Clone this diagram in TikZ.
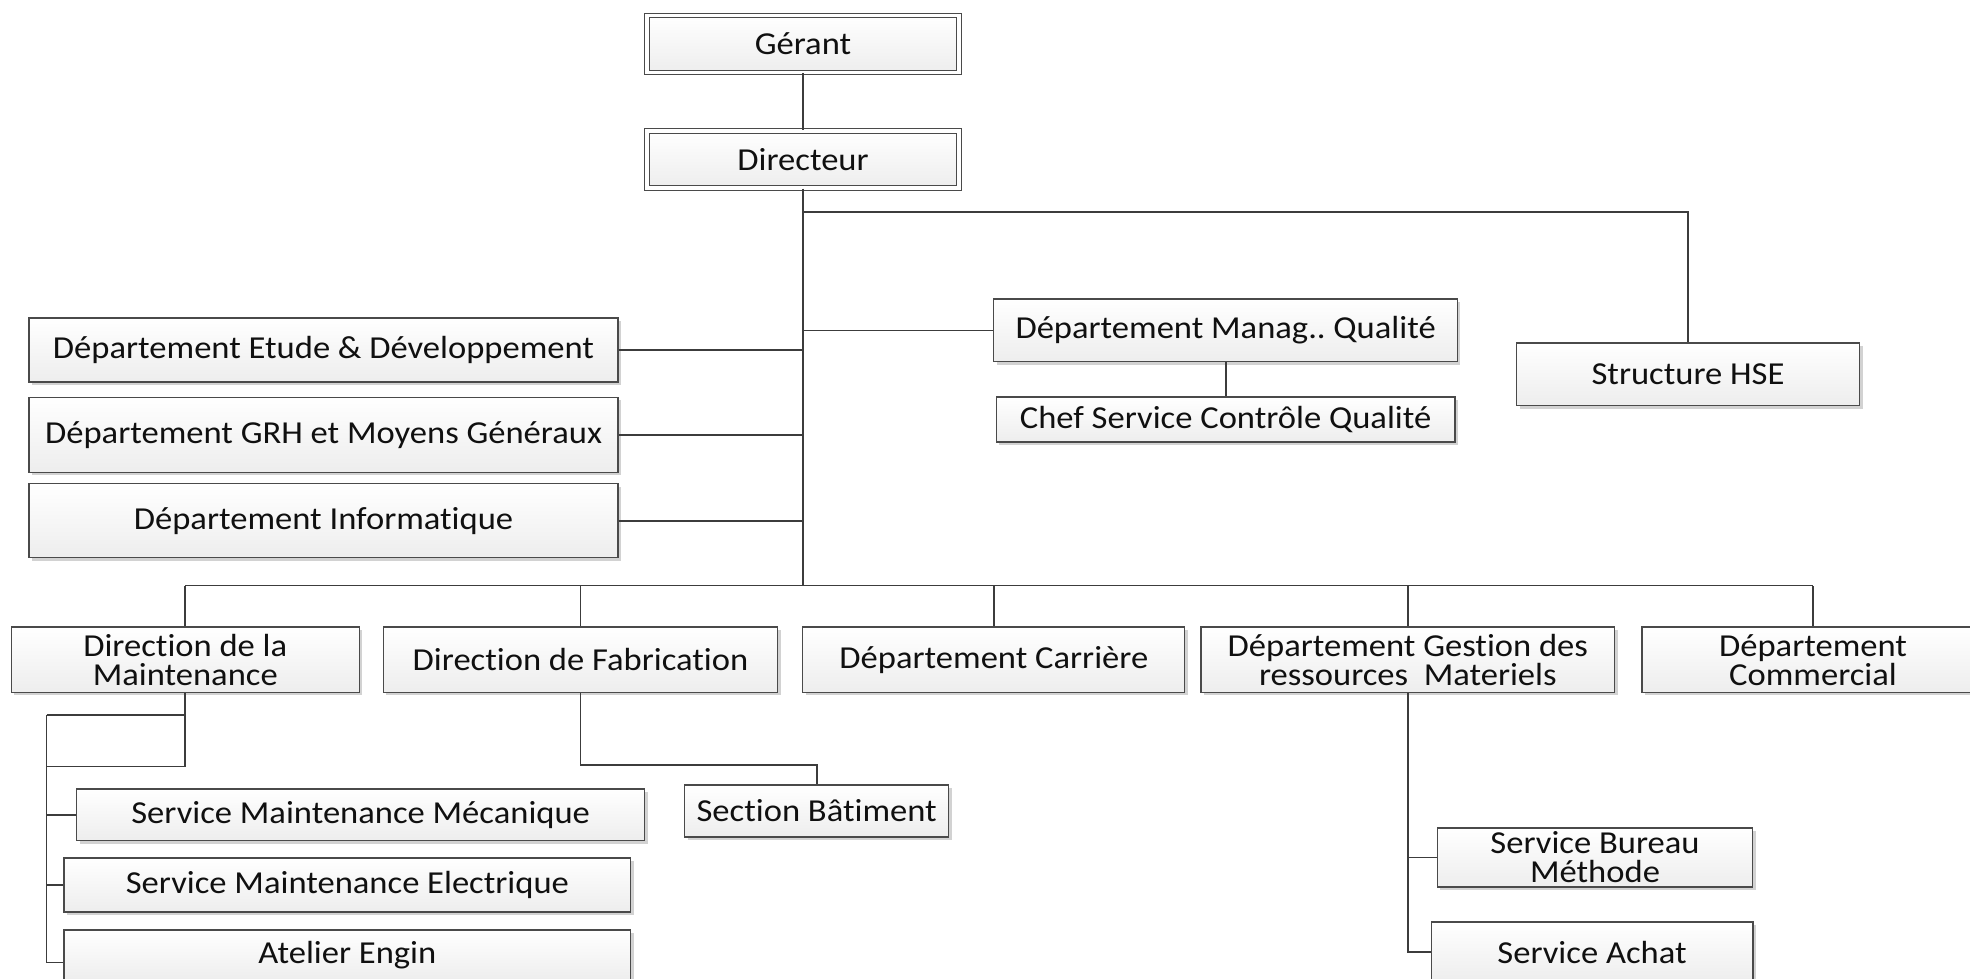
\documentclass[tikz,border=0pt]{standalone}
\usepackage{fontspec}
\setmainfont{Carlito}[FakeStretch=1.08, Ligatures=NoCommon]
\usetikzlibrary{shadows}
\definecolor{edge}{HTML}{4A4A4A}
\definecolor{wire}{HTML}{3C3C3C}
\definecolor{txt}{HTML}{101010}
\frenchspacing
\tikzset{
  orgbox/.style={draw=edge, line width=1.3pt, top color=white, bottom color=gray!14,
    text=txt, align=center, inner sep=0pt,
    general shadow={fill=gray!35, shadow xshift=3pt, shadow yshift=-3pt},
    font=\fontsize{32}{29}\selectfont},
  headbox/.style={orgbox, double=white, double distance=3.5pt, line width=1.1pt},
  wirestyle/.style={draw=wire, line width=1.8pt}
}
\begin{document}
\begin{tikzpicture}[x=1pt, y=-1pt]
\useasboundingbox (0,0) rectangle (1970,979);
\clip (0,0) rectangle (1970,979);
\fill[white] (0,0) rectangle (1970,979);

% top of the hierarchy
\node[headbox, minimum width=312pt, minimum height=57pt] (ger) at (803,43.9) {Gérant};
\node[headbox, minimum width=312pt, minimum height=57pt] (dir) at (803,159.5) {Directeur};

% staff departments on the left
\node[orgbox, minimum width=589pt, minimum height=64pt] (etu) at (323.5,350) {Département Etude \& Développement};
\node[orgbox, minimum width=589pt, minimum height=75pt] (grh) at (323.5,434.7) {Département GRH et Moyens Généraux};
\node[orgbox, minimum width=589pt, minimum height=74pt] (inf) at (323.5,520.7) {Département Informatique};

% quality and HSE
\node[orgbox, minimum width=463.6pt, minimum height=62.8pt] (man) at (1225.6,330.4) {Département Manag.. Qualité};
\node[orgbox, minimum width=458.7pt, minimum height=45pt] (chf) at (1225.6,419.5) {Chef Service Contrôle Qualité};
\node[orgbox, minimum width=343pt, minimum height=62.8pt] (hse) at (1688,374.4) {Structure HSE};

% operational directions
\node[orgbox, minimum width=348pt, minimum height=65.3pt] (mnt) at (185.3,659.7) {Direction de la\\Maintenance};
\node[orgbox, minimum width=394.5pt, minimum height=65.3pt] (fab) at (580.5,659.7) {Direction de Fabrication};
\node[orgbox, minimum width=382pt, minimum height=65.3pt] (car) at (993.8,659.7) {Département Carrière};
\node[orgbox, minimum width=413.5pt, minimum height=65.3pt] (ges) at (1407.8,659.7) {Département Gestion des\\ressources\ \ Materiels};
\node[orgbox, minimum width=342pt, minimum height=65.3pt] (com) at (1813,659.7) {Département\\Commercial};

% services under maintenance
\node[orgbox, minimum width=568pt, minimum height=51.5pt] (mec) at (360.6,814.8) {Service Maintenance Mécanique};
\node[orgbox, minimum width=566.7pt, minimum height=54pt] (ele) at (347.4,885) {Service Maintenance Electrique};
\node[orgbox, minimum width=566.7pt, minimum height=51pt] (ate) at (347.4,955.4) {Atelier Engin};

% section under fabrication
\node[orgbox, minimum width=264pt, minimum height=52pt] (sec) at (816.7,811) {Section Bâtiment};

% services under resources management
\node[orgbox, minimum width=315.4pt, minimum height=59pt] (bur) at (1595,857.5) {Service Bureau\\Méthode};
\node[orgbox, minimum width=321.7pt, minimum height=60pt] (ach) at (1592,952) {Service Achat};

% junction points
\coordinate (bus) at (803,585.5);
\coordinate (hsej) at (803,212);
\coordinate (m1) at (46.5,715);
\coordinate (m2) at (46.5,766.4);

% connectors
\draw[wirestyle] (ger) -- (dir);
\draw[wirestyle] (dir.south) -- (bus);
\draw[wirestyle] (hsej) -| (hse.north);
\draw[wirestyle] (etu.east) -- (etu.east -| bus);
\draw[wirestyle] (grh.east) -- (grh.east -| bus);
\draw[wirestyle] (inf.east) -- (inf.east -| bus);
\draw[wirestyle] (man.west) -- (man.west -| bus);
\draw[wirestyle] (man.south) -- (chf.north);

\draw[wirestyle] (mnt.north |- bus) -- (com.north |- bus);
\foreach \n in {mnt,fab,car,ges,com}
  \draw[wirestyle] (\n.north) -- (\n.north |- bus);

\draw[wirestyle] (mnt.south) -- (mnt.south |- m2) -- (m2);
\draw[wirestyle] (m1) -- (m1 -| mnt.south);
\draw[wirestyle] (m1) |- ([yshift=-7pt]ate.west);
\draw[wirestyle] (mec.west) -- (mec.west -| m1);
\draw[wirestyle] (ele.west) -- (ele.west -| m1);

\draw[wirestyle] (fab.south) -- ++(0,72) -| (sec.north);

\draw[wirestyle] (ges.south) |- (ach.west);
\draw[wirestyle] (bur.west) -- (bur.west -| ges.south);
\end{tikzpicture}
\end{document}
